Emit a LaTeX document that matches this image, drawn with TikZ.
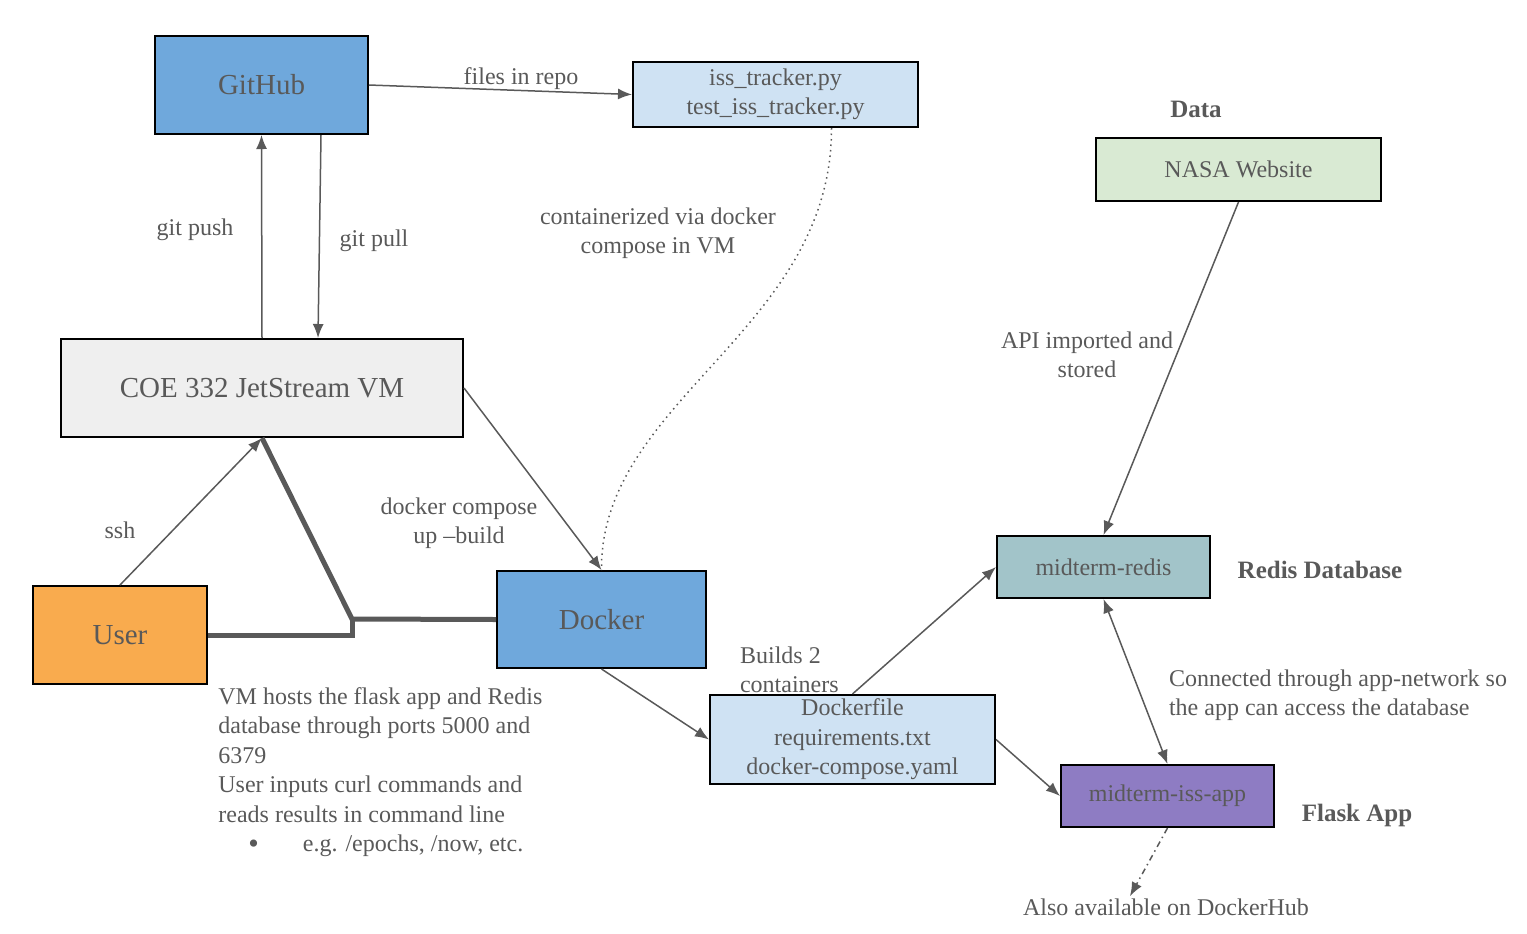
\documentclass[tikz,border=0pt]{standalone}
\usepackage{fontspec}
\setmainfont{Liberation Serif}
\usepackage{xcolor}
\usetikzlibrary{positioning,calc,arrows.meta}

\definecolor{hubblue}{HTML}{6FA8DC}
\definecolor{fileblue}{HTML}{CFE2F3}
\definecolor{nasagreen}{HTML}{D9EAD3}
\definecolor{vmgray}{HTML}{EFEFEF}
\definecolor{userorange}{HTML}{F9AB4E}
\definecolor{redisteal}{HTML}{A2C4C9}
\definecolor{apppurple}{HTML}{8E7CC3}
\definecolor{txtgray}{HTML}{595959}

\begin{document}
\begin{tikzpicture}[x=0.5pt, y=-0.5pt, >={Latex[length=7pt,width=5.5pt]},
    every node/.style={text=txtgray, font=\fontsize{12}{14.75}\selectfont},
    box/.style={draw=black, line width=1pt, inner sep=2pt, align=center},
    bigbox/.style={box, font=\fontsize{14.5}{17}\selectfont},
    conn/.style={draw=txtgray, line width=0.75pt},
    heavy/.style={draw=txtgray, line width=2.5pt},
    tag/.style={font=\bfseries\fontsize{12.5}{14.5}\selectfont}]
    \useasboundingbox (0,0) rectangle (1527,933);

    % Boxes
    \node [bigbox, fill=hubblue, minimum width=106.5pt, minimum height=49pt] (github) at (261.5,85) {GitHub};
    \node [box, fill=fileblue, minimum width=142.5pt, minimum height=32.5pt] (files) at (775.5,94.5) {iss\_tracker.py\\test\_iss\_tracker.py};
    \node [box, fill=nasagreen, minimum width=142.5pt, minimum height=31.5pt] (nasa) at (1238.5,169.5) {NASA Website};
    \node [bigbox, fill=vmgray, minimum width=201pt, minimum height=49pt] (vm) at (262,388) {COE 332 JetStream VM};
    \node [bigbox, fill=userorange, minimum width=87pt, minimum height=49pt] (user) at (120,635) {User};
    \node [bigbox, fill=hubblue, minimum width=104.5pt, minimum height=48.5pt] (docker) at (601.5,619.5) {Docker};
    \node [box, fill=fileblue, minimum width=142.5pt, minimum height=42.5pt] (dfile) at (852.5,739.5) {Dockerfile\\requirements.txt\\docker-compose.yaml};
    \node [box, fill=redisteal, minimum width=106.5pt, minimum height=31pt] (redis) at (1103.5,567) {midterm-redis};
    \node [box, fill=apppurple, minimum width=106.5pt, minimum height=31pt] (app) at (1167.5,796) {midterm-iss-app};

    % Headings
    \node [tag] (datatag) at (1196,109) {Data};
    \node [tag] (redistag) at (1320,570) {Redis Database};
    \node [tag] (flasktag) at (1357,815) {Flask App};

    % Labels
    \node (repolbl) at (521,79) {files in repo};
    \node (pushlbl) at (195,230) {git push};
    \node (pulllbl) at (374,241) {git pull};
    \node [align=center] (contlbl) at (658,233) {containerized via docker\\compose in VM};
    \node [align=center] (apilbl) at (1087,355) {API imported and\\stored};
    \node (sshlbl) at (120,530) {ssh};
    \node [align=center] (uplbl) at (459,523) {docker compose\\up –build};
    \node [align=left, anchor=west] (buildlbl) at (733,670) {Builds 2\\containers};
    \node [align=left, anchor=west] (netlbl) at (1162,695) {Connected through app-network so\\the app can access the database};
    \node [inner sep=1pt] (hub) at (1166,907) {Also available on DockerHub};
    \node [align=left, anchor=north west, inner sep=0pt] (notes) at (218,687) {VM hosts the flask app and Redis\\database through ports 5000 and\\6379\\User inputs curl commands and\\reads results in command line\\\hspace*{15pt}\raisebox{-0.8pt}{\fontsize{15}{14}\selectfont\textbullet}\hspace{22pt}e.g. /epochs, /now, etc.};

    % Connectors
    \draw [conn, ->] (github.east) -- (files.west);
    \draw [conn, ->] (vm.north) -- (github.south);
    \draw [conn, ->] ([xshift=29.75pt]github.south) -- ([xshift=28pt]vm.north);
    \draw [conn, ->] (user.north) -- (vm.south);
    \draw [conn, ->] (vm.east) -- (docker.north);
    \draw [conn, dotted] ([xshift=28pt]files.south) .. controls (832,330) and (600,400) .. (docker.north);
    \coordinate (junc) at (352,619);
    \draw [heavy] (vm.south) -- (junc) -- (docker.west);
    \draw [heavy] (user.east) -| (junc);
    \draw [conn, ->] (docker.south) -- (dfile.west);
    \draw [conn, ->] (dfile.north) -- (redis.west);
    \draw [conn, ->] (dfile.east) -- (app.west);
    \draw [conn, ->] (nasa.south) -- (redis.north);
    \draw [conn, <->] (redis.south) -- (app.north);
    \draw [conn, ->, dash dot] (app.south) -- ([xshift=-18pt]hub.north);
\end{tikzpicture}
\end{document}
